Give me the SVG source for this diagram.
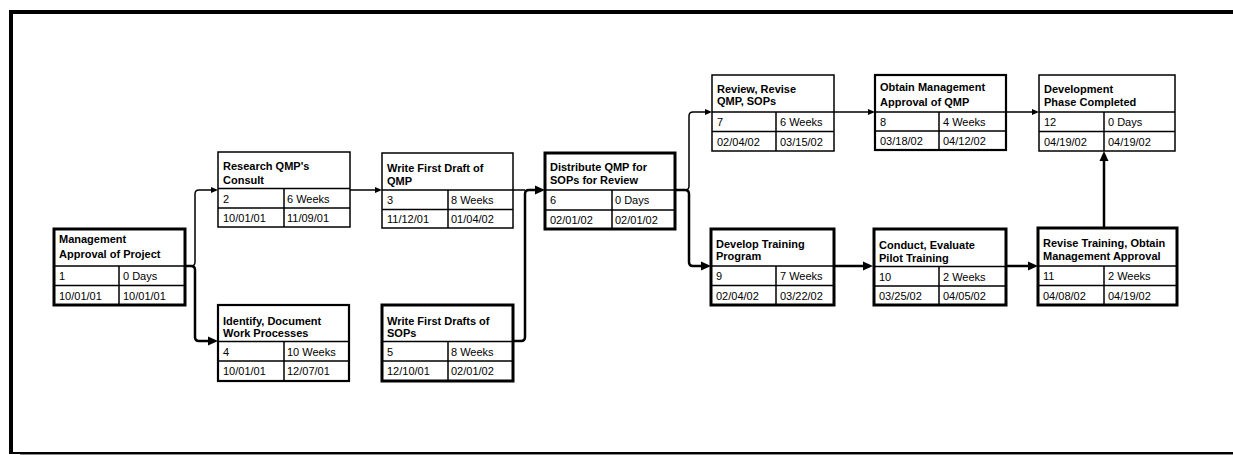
<svg xmlns="http://www.w3.org/2000/svg" width="1233" height="455" viewBox="0 0 1233 455">
<style>
text{font-family:"Liberation Sans",Arial,sans-serif;font-size:11px;fill:#000}
.t{font-weight:bold}
.box{fill:#fff;stroke:#000}
.thin{stroke-width:1.5}
.med{stroke-width:2.2}
.thick{stroke-width:3}
.div{stroke:#000;stroke-width:1.5;fill:none}
.c{fill:none;stroke:#000}
.cs{stroke-width:1.5;marker-end:url(#as)}
.cb{stroke-width:2.5;marker-end:url(#ab)}
</style>
<defs>
<marker id="as" markerUnits="userSpaceOnUse" markerWidth="7" markerHeight="6" viewBox="0 -3 7 6" refX="0" refY="0" orient="auto"><path d="M0,-3 L7,0 L0,3 z" fill="#000"/></marker>
<marker id="ab" markerUnits="userSpaceOnUse" markerWidth="10" markerHeight="10" viewBox="0 -5 10 10" refX="0" refY="0" orient="auto"><path d="M0,-4.5 L10,0 L0,4.5 z" fill="#000"/></marker>
</defs>
<rect width="1233" height="455" fill="#fff"/>
<g id="frame">
<rect x="9" y="10" width="1224" height="4" fill="#000"/>
<rect x="9" y="10" width="4" height="444" fill="#000"/>
<rect x="9" y="452" width="1224" height="2" fill="#000"/>
<rect x="20" y="454" width="1213" height="1" fill="#888"/>
</g>
<g id="connectors">
<path class="c cs" d="M186,266 H191 Q195,266 195,262 V194 Q195,190 199,190 H211"/>
<path class="c cb" d="M186,266 H191 Q195,266 195,270 V337 Q195,341 199,341 H208"/>
<path class="c cs" d="M350,190 H375"/>
<path class="c" stroke-width="1.5" d="M513,190 H525"/>
<path class="c cb" d="M513,341 H521 Q525,341 525,337 V194 Q525,190 529,190 H535"/>
<path class="c cs" d="M675,190 H685 Q689,190 689,186 V116 Q689,112 693,112 H705"/>
<path class="c cb" d="M675,190 H685 Q689,190 689,194 V262 Q689,266 693,266 H701"/>
<path class="c cs" d="M834,112 H868"/>
<path class="c cs" d="M1006,112 H1032"/>
<path class="c cb" d="M834,266 H863"/>
<path class="c cb" d="M1006,266 H1028"/>
<path class="c cb" d="M1104,228 V161"/>
</g>
<g id="n1">
<rect class="box thick" x="54" y="229" width="131" height="76"/>
<path class="div" d="M54,266 H185 M54,285.5 H185 M119,266 V305"/>
<text class="t" x="59" y="243">Management</text>
<text class="t" x="59" y="258">Approval of Project</text>
<text x="59" y="280">1</text><text x="123" y="280">0 Days</text>
<text x="59" y="299.5">10/01/01</text><text x="123" y="299.5">10/01/01</text>
</g>
<g id="n2">
<rect class="box thin" x="218" y="152" width="132" height="75"/>
<path class="div" d="M218,188.5 H350 M218,208 H350 M284,188.5 V227"/>
<text class="t" x="223" y="170">Research QMP's</text>
<text class="t" x="223" y="184">Consult</text>
<text x="223" y="202.5">2</text><text x="287" y="202.5">6 Weeks</text>
<text x="223" y="221.5">10/01/01</text><text x="287" y="221.5">11/09/01</text>
</g>
<g id="n3">
<rect class="box thin" x="382" y="153" width="131" height="75"/>
<path class="div" d="M382,190 H513 M382,209.5 H513 M448,190 V228"/>
<text class="t" x="387" y="172">Write First Draft of</text>
<text class="t" x="387" y="185">QMP</text>
<text x="387" y="204">3</text><text x="451" y="204">8 Weeks</text>
<text x="387" y="223">11/12/01</text><text x="451" y="223">01/04/02</text>
</g>
<g id="n4">
<rect class="box med" x="218" y="305" width="131" height="76"/>
<path class="div" d="M218,341.5 H349 M218,361 H349 M284,341.5 V381"/>
<text class="t" x="223" y="325">Identify, Document</text>
<text class="t" x="223" y="337">Work Processes</text>
<text x="223" y="355.5">4</text><text x="287" y="355.5">10 Weeks</text>
<text x="223" y="375">10/01/01</text><text x="287" y="375">12/07/01</text>
</g>
<g id="n5">
<rect class="box thick" x="382" y="305" width="131" height="76"/>
<path class="div" d="M382,341.5 H513 M382,361 H513 M448,341.5 V381"/>
<text class="t" x="387" y="325">Write First Drafts of</text>
<text class="t" x="387" y="337">SOPs</text>
<text x="387" y="355.5">5</text><text x="451" y="355.5">8 Weeks</text>
<text x="387" y="375">12/10/01</text><text x="451" y="375">02/01/02</text>
</g>
<g id="n6">
<rect class="box thick" x="545" y="153" width="130" height="76"/>
<path class="div" d="M545,190 H675 M545,210 H675 M612,190 V229"/>
<text class="t" x="550" y="171">Distribute QMP for</text>
<text class="t" x="550" y="184">SOPs for Review</text>
<text x="550" y="204">6</text><text x="615" y="204">0 Days</text>
<text x="550" y="223.5">02/01/02</text><text x="615" y="223.5">02/01/02</text>
</g>
<g id="n7">
<rect class="box thin" x="712" y="75" width="122" height="76"/>
<path class="div" d="M712,112 H834 M712,131.5 H834 M776,112 V151"/>
<text class="t" x="717" y="93">Review, Revise</text>
<text class="t" x="717" y="105">QMP, SOPs</text>
<text x="717" y="126">7</text><text x="780" y="126">6 Weeks</text>
<text x="717" y="145.5">02/04/02</text><text x="780" y="145.5">03/15/02</text>
</g>
<g id="n8">
<rect class="box med" x="875" y="75" width="131" height="75"/>
<path class="div" d="M875,112 H1006 M875,131 H1006 M939,112 V150"/>
<text class="t" x="880" y="91">Obtain Management</text>
<text class="t" x="880" y="106">Approval of QMP</text>
<text x="880" y="126">8</text><text x="943" y="126">4 Weeks</text>
<text x="880" y="145">03/18/02</text><text x="943" y="145">04/12/02</text>
</g>
<g id="n9">
<rect class="box thick" x="711" y="229" width="123" height="76"/>
<path class="div" d="M711,266 H834 M711,285.5 H834 M776,266 V305"/>
<text class="t" x="716" y="248">Develop Training</text>
<text class="t" x="716" y="260">Program</text>
<text x="716" y="280">9</text><text x="780" y="280">7 Weeks</text>
<text x="716" y="299.5">02/04/02</text><text x="780" y="299.5">03/22/02</text>
</g>
<g id="n10">
<rect class="box thick" x="874" y="229" width="132" height="76"/>
<path class="div" d="M874,266.5 H1006 M874,286 H1006 M939,266.5 V305"/>
<text class="t" x="879" y="248.5">Conduct, Evaluate</text>
<text class="t" x="879" y="261.5">Pilot Training</text>
<text x="879" y="280.5">10</text><text x="943" y="280.5">2 Weeks</text>
<text x="879" y="300">03/25/02</text><text x="943" y="300">04/05/02</text>
</g>
<g id="n11">
<rect class="box thick" x="1038" y="228" width="139" height="77"/>
<path class="div" d="M1038,266 H1177 M1038,285.5 H1177 M1104,266 V305"/>
<text class="t" x="1043" y="246.5">Revise Training, Obtain</text>
<text class="t" x="1043" y="260">Management Approval</text>
<text x="1043" y="280">11</text><text x="1108" y="280">2 Weeks</text>
<text x="1043" y="299.5">04/08/02</text><text x="1108" y="299.5">04/19/02</text>
</g>
<g id="n12">
<rect class="box thin" x="1039" y="75" width="136" height="76"/>
<path class="div" d="M1039,112 H1175 M1039,131.5 H1175 M1104,112 V151"/>
<text class="t" x="1044" y="93">Development</text>
<text class="t" x="1044" y="106">Phase Completed</text>
<text x="1044" y="126">12</text><text x="1108" y="126">0 Days</text>
<text x="1044" y="145.5">04/19/02</text><text x="1108" y="145.5">04/19/02</text>
</g>
</svg>
